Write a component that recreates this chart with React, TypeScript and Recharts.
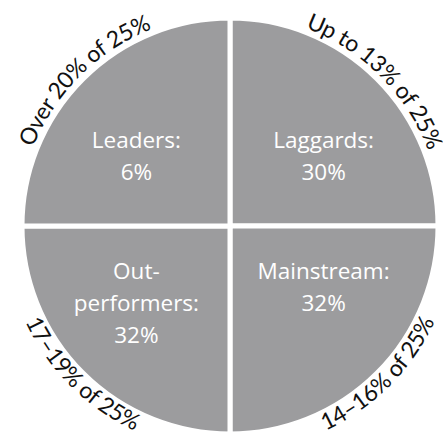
import { Cell, Pie, PieChart } from 'recharts'

// Four equal quarters of the market, each labelled with its group share.
const SEGMENTS = ['Laggards', 'Mainstream', 'Out-performers', 'Leaders']
const SLICE_SIZE = [25, 25, 25, 25]
const GROUP_SHARE = [30, 32, 32, 6]
const RIM_LABELS = ['Up to 13% of 25%', '14–16% of 25%', '17–19% of 25%', 'Over 20% of 25%']

const FILL = '#9c9c9e'
const FONT = '"Open Sans", sans-serif'
const RIM_FONT = 'Lato, "Open Sans", sans-serif'

const data = SEGMENTS.map((name, i) => ({
  name,
  value: SLICE_SIZE[i],
  share: GROUP_SHARE[i],
  rim: RIM_LABELS[i],
}))

const RAD = Math.PI / 180

function polar(cx: number, cy: number, r: number, deg: number) {
  return [cx + r * Math.cos(deg * RAD), cy - r * Math.sin(deg * RAD)]
}

// Split "Out-performers" after the hyphen, add the colon and the share.
function innerLines(name: string, share: number) {
  const cut = name.indexOf('-') + 1
  const parts = cut > 0 ? [name.slice(0, cut), name.slice(cut)] : [name]
  parts[parts.length - 1] += ':'
  return [...parts, `${share}%`]
}

function SliceLabel(props: any) {
  const { cx, cy, outerRadius, startAngle, endAngle, midAngle, index } = props
  const entry = data[index]
  const top = Math.sin(midAngle * RAD) > 0
  const right = Math.cos(midAngle * RAD) > 0

  // text along the rim: clockwise on the top half, counter-clockwise below so it stays readable
  const r = top ? outerRadius + 4 : outerRadius + 18
  const [sx, sy] = polar(cx, cy, r, top ? startAngle : endAngle)
  const [ex, ey] = polar(cx, cy, r, top ? endAngle : startAngle)
  const d = `M ${sx} ${sy} A ${r} ${r} 0 0 ${top ? 1 : 0} ${ex} ${ey}`
  const id = `rim-${index}`

  const lines = innerLines(entry.name, entry.share)
  const tx = cx + (right ? 1 : -1) * outerRadius * 0.45
  const ty = top ? cy - outerRadius * 0.375 : cy + outerRadius * 0.255

  return (
    <g>
      <defs>
        <path id={id} d={d} />
      </defs>
      <text fontFamily={RIM_FONT} fontSize={23} letterSpacing={-0.4} fill="#111">
        <textPath href={`#${id}`} startOffset="50%" textAnchor="middle">
          {entry.rim}
        </textPath>
      </text>
      <text x={tx} y={ty} fontFamily={FONT} fontSize={22.5} fill="#fff" textAnchor="middle">
        {lines.map((line, i) => (
          <tspan key={i} x={tx} dy={i === 0 ? 0 : 32}>
            {line}
          </tspan>
        ))}
      </text>
    </g>
  )
}

export default function App() {
  return (
    <div style={{ position: 'absolute', left: 0, top: 0, background: '#fff' }}>
      <PieChart width={443} height={439} margin={{ top: 0, right: 0, bottom: 0, left: 0 }}>
        <Pie
          data={data}
          dataKey="value"
          nameKey="name"
          cx={230}
          cy={226}
          outerRadius={208}
          startAngle={90}
          endAngle={-270}
          stroke="#fff"
          strokeWidth={5}
          label={SliceLabel}
          labelLine={false}
          isAnimationActive={false}
        >
          {data.map((d) => (
            <Cell key={d.name} fill={FILL} />
          ))}
        </Pie>
      </PieChart>
    </div>
  )
}
